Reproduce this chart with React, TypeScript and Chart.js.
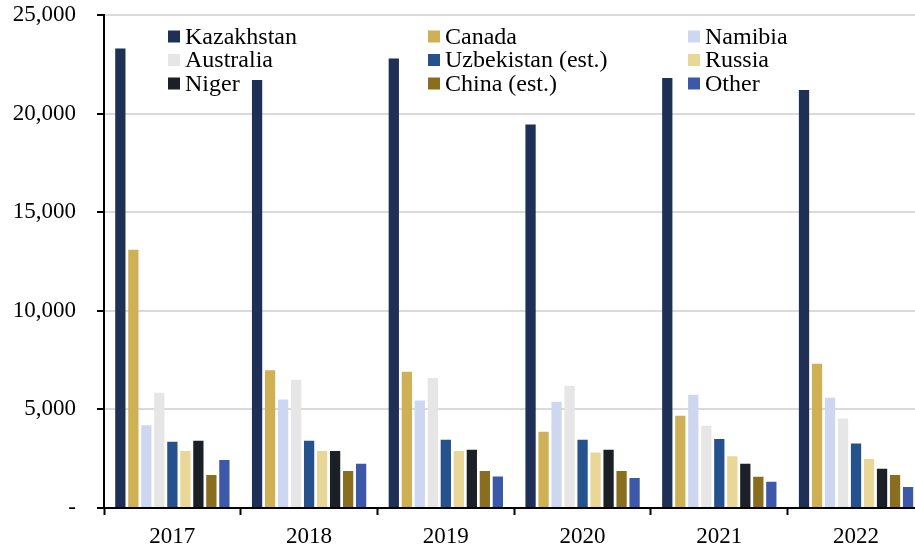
import React, { useEffect, useRef } from "react";
import { Chart, registerables } from "chart.js";

Chart.register(...registerables);

const years = ["2017", "2018", "2019", "2020", "2021", "2022"];

const kazakhstan = [23300, 21700, 22800, 19450, 21800, 21200];
const canada = [13100, 6980, 6910, 3870, 4680, 7310];
const namibia = [4190, 5500, 5450, 5390, 5740, 5590];
const australia = [5840, 6500, 6590, 6200, 4170, 4540];
const uzbekistan = [3360, 3410, 3460, 3460, 3500, 3270];
const russia = [2890, 2890, 2890, 2820, 2620, 2480];
const niger = [3410, 2890, 2960, 2960, 2250, 1990];
const china = [1670, 1880, 1880, 1880, 1590, 1670];
const other = [2430, 2250, 1600, 1520, 1330, 1060];

const seriesNames = [
  "Kazakhstan",
  "Canada",
  "Namibia",
  "Australia",
  "Uzbekistan (est.)",
  "Russia",
  "Niger",
  "China (est.)",
  "Other",
];
const seriesValues = [kazakhstan, canada, namibia, australia, uzbekistan, russia, niger, china, other];
const seriesColors = [
  "#1F3057",
  "#D0B055",
  "#CDD7EF",
  "#E6E6E6",
  "#25528C",
  "#E9D797",
  "#1B1F26",
  "#8A6E1F",
  "#3D58A8",
];

const yTicks = [0, 5000, 10000, 15000, 20000, 25000];

const FONT = '"Times New Roman", "Liberation Serif", serif';

const legendPlugin = {
  id: "gridLegend",
  afterDraw(chart: any) {
    const ctx = chart.ctx;
    const colX = [168, 428, 688];
    const rowY = [36.5, 60, 83.5];
    ctx.save();
    ctx.font = `24px ${FONT}`;
    ctx.textBaseline = "middle";
    ctx.textAlign = "left";
    chart.data.datasets.forEach((ds: any, i: number) => {
      const col = i % 3;
      const row = Math.floor(i / 3);
      const x = colX[col];
      const y = rowY[row];
      ctx.fillStyle = ds.backgroundColor;
      ctx.fillRect(x, y - 6, 12, 12);
      ctx.fillStyle = "#000";
      ctx.fillText(ds.label, x + 17, y + 1);
    });
    ctx.restore();
  },
};

export default function App() {
  const ref = useRef<HTMLCanvasElement | null>(null);

  useEffect(() => {
    if (!ref.current) return;
    const chart = new Chart(ref.current, {
      type: "bar",
      data: {
        labels: years,
        datasets: seriesNames.map((name, i) => ({
          label: name,
          data: seriesValues[i],
          backgroundColor: seriesColors[i],
          borderWidth: 0,
          categoryPercentage: 0.856,
          barPercentage: 0.79,
        })),
      },
      options: {
        responsive: false,
        animation: false,
        devicePixelRatio: 1,
        layout: { padding: { left: 0, top: 15, right: 15.6, bottom: 0 } },
        plugins: {
          legend: { display: false },
          tooltip: { enabled: false },
        },
        scales: {
          x: {
            grid: {
              display: true,
              drawOnChartArea: false,
              drawTicks: true,
              tickLength: 7,
              tickColor: "#000",
              tickWidth: 2,
              offset: true,
            },
            border: { display: true, color: "#000", width: 2 },
            ticks: {
              color: "#000",
              font: { family: FONT, size: 23 },
              padding: 8,
              maxRotation: 0,
            },
            afterFit(scale: any) {
              scale.height = 44;
              scale.paddingLeft = 0;
              scale.paddingRight = 0;
            },
          },
          y: {
            min: 0,
            max: 25000,
            afterBuildTicks(scale: any) {
              scale.ticks = yTicks.map((v) => ({ value: v }));
            },
            grid: {
              color: "#DADADA",
              lineWidth: 2,
              tickLength: 7,
              tickColor: "#000",
              tickWidth: 2,
            },
            border: { display: true, color: "#000", width: 2 },
            ticks: {
              color: "#000",
              font: { family: FONT, size: 23 },
              padding: 21,
              callback: (v: any) => (Number(v) === 0 ? "-" : Number(v).toLocaleString("en-US")),
            },
            afterFit(scale: any) {
              scale.width = 104;
              scale.paddingTop = 0;
              scale.paddingBottom = 0;
            },
          },
        },
      },
      plugins: [legendPlugin],
    });
    return () => chart.destroy();
  }, []);

  return (
    <div
      style={{
        position: "fixed",
        left: 0,
        top: 0,
        width: 915,
        height: 552,
        overflow: "hidden",
        background: "#fff",
      }}
    >
      <canvas ref={ref} width={940} height={552} style={{ width: 940, height: 552, display: "block" }} />
    </div>
  );
}
